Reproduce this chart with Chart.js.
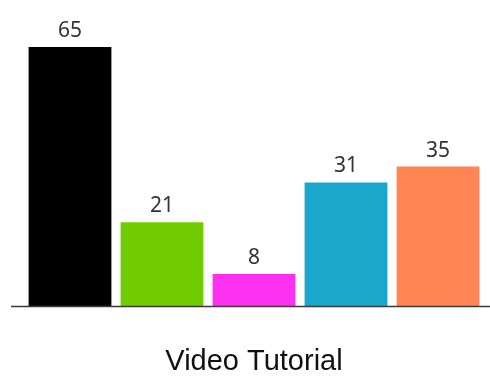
<!DOCTYPE html>
<html>
<head>
<meta charset="utf-8">
<script src="https://cdn.jsdelivr.net/npm/chart.js@4"></script>
<style>
  html, body { margin: 0; padding: 0; background: #fff; }
  #wrap { width: 490px; height: 376px; }
</style>
</head>
<body>
<div id="wrap"><canvas id="c" width="490" height="376"></canvas></div>
<script>
// Chart data
const categories = ['A', 'B', 'C', 'D', 'E'];
const values = [65, 21, 8, 31, 35];
const barColors = ['#000000', '#70cc00', '#fd30f0', '#19a8cb', '#ff8654'];
const chartTitle = 'Video Tutorial';

// Value labels above each bar
const valueLabels = {
  id: 'valueLabels',
  afterDatasetsDraw(chart) {
    const ctx = chart.ctx;
    const meta = chart.getDatasetMeta(0);
    ctx.save();
    ctx.font = '21px "Noto Sans", sans-serif';
    ctx.fillStyle = '#333333';
    ctx.textAlign = 'center';
    ctx.textBaseline = 'alphabetic';
    meta.data.forEach((bar, i) => {
      ctx.fillText(String(chart.data.datasets[0].data[i]), bar.x, bar.y - 10);
    });
    ctx.restore();
  }
};

// Baseline running under the bars
const baseLine = {
  id: 'baseLine',
  afterDatasetsDraw(chart) {
    const ctx = chart.ctx;
    const y = Math.round(chart.scales.y.getPixelForValue(0)) + 0.5;
    ctx.save();
    ctx.strokeStyle = '#3a3a3a';
    ctx.lineWidth = 1.5;
    ctx.beginPath();
    ctx.moveTo(chart.chartArea.left - 13, y);
    ctx.lineTo(chart.width, y);
    ctx.stroke();
    ctx.restore();
  }
};

new Chart(document.getElementById('c'), {
  type: 'bar',
  data: {
    labels: categories,
    datasets: [{
      data: values,
      backgroundColor: barColors,
      borderWidth: 0,
      categoryPercentage: 1.0,
      barPercentage: 0.9
    }]
  },
  options: {
    responsive: false,
    animation: false,
    devicePixelRatio: 1,
    layout: { padding: { left: 24, right: 6, top: 27, bottom: 0 } },
    scales: {
      x: { display: false },
      y: { display: false, min: 0, max: 70 }
    },
    plugins: {
      legend: { display: false },
      tooltip: { enabled: false },
      title: {
        display: true,
        text: chartTitle,
        position: 'bottom',
        color: '#111111',
        font: { family: '"Liberation Sans", Arial, sans-serif', size: 29, weight: 'normal', lineHeight: 1 },
        padding: { top: 41, bottom: 0 }
      }
    }
  },
  plugins: [valueLabels, baseLine]
});
</script>
</body>
</html>
